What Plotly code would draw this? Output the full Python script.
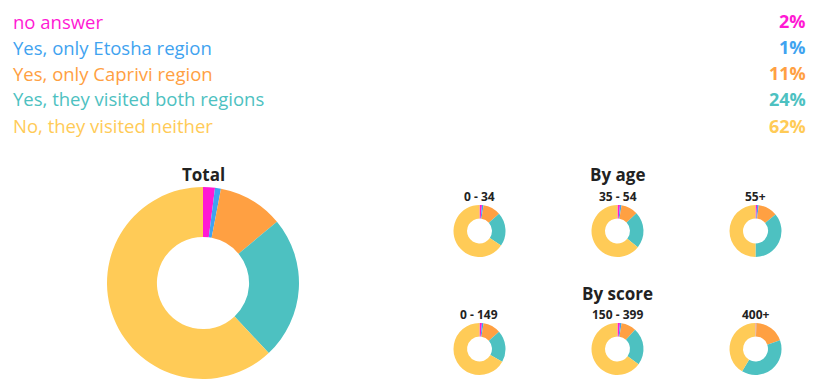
import plotly.graph_objects as go

categories = ["no answer", "Yes, only Etosha region", "Yes, only Caprivi region",
              "Yes, they visited both regions", "No, they visited neither"]
colors = ["#ff19d4", "#3fa3f0", "#ffa042", "#4dc1c1", "#ffcb57"]

total_values = [2, 1, 11, 24, 62]
total_labels = ["2%", "1%", "11%", "24%", "62%"]

age_groups = ["0 - 34", "35 - 54", "55+"]
age_values = [
    [1.5, 1, 11, 21, 65.5],
    [1.5, 1, 10.5, 22.7, 64.3],
    [1, 1, 12, 36, 50],
]
score_groups = ["0 - 149", "150 - 399", "400+"]
score_values = [
    [1.5, 1, 11, 19.6, 66.9],
    [1.5, 1, 9.3, 23.2, 65],
    [0.3, 0.3, 19, 39, 41.4],
]

W, H = 820, 392
FONT = "Open Sans"

def dom(cx, cy, r):
    return dict(x=[(cx - r) / W, (cx + r) / W], y=[(H - cy - r) / H, (H - cy + r) / H])

def pie(values, cx, cy, r):
    return go.Pie(labels=categories, values=values, hole=0.48, sort=False,
                  direction="clockwise", rotation=0,
                  marker=dict(colors=colors, line=dict(width=0)),
                  textinfo="none", hoverinfo="label+percent", showlegend=False,
                  domain=dom(cx, cy, r))

fig = go.Figure()
fig.add_trace(pie(total_values, 203, 283, 96))

small_x = [479.5, 617.5, 755.5]
for i, v in enumerate(age_values):
    fig.add_trace(pie(v, small_x[i], 231, 26))
for i, v in enumerate(score_values):
    fig.add_trace(pie(v, small_x[i], 349, 26))

ann = []
legend_y = [21, 47, 73, 99, 126]
for i, c in enumerate(categories):
    ann.append(dict(x=11 / W, y=1 - legend_y[i] / H, xref="paper", yref="paper",
                    xanchor="left", yanchor="middle", text=c, showarrow=False,
                    font=dict(family=FONT, size=18.5, color=colors[i])))
    ann.append(dict(x=808 / W, y=1 - legend_y[i] / H, xref="paper", yref="paper",
                    xanchor="right", yanchor="middle", text="<b>%s</b>" % total_labels[i],
                    showarrow=False, font=dict(family=FONT, size=18, color=colors[i])))

def title(text, cx, cy, size):
    ann.append(dict(x=cx / W, y=1 - cy / H, xref="paper", yref="paper",
                    xanchor="center", yanchor="middle", text="<b>%s</b>" % text,
                    showarrow=False, font=dict(family=FONT, size=size, color="#222222")))

title("Total", 203, 174, 17)
title("By age", 617, 174, 17)
title("By score", 617, 293, 17)
for i, g in enumerate(age_groups):
    title(g, small_x[i], 196, 12)
for i, g in enumerate(score_groups):
    title(g, small_x[i], 314, 12)

fig.update_layout(width=W, height=H, autosize=False,
                  margin=dict(l=0, r=0, t=0, b=0),
                  paper_bgcolor="white", plot_bgcolor="white",
                  annotations=ann)

fig.write_html("out.html", config={"displayModeBar": False},
               post_script="document.body.style.margin='0';document.body.style.overflow='hidden';")
